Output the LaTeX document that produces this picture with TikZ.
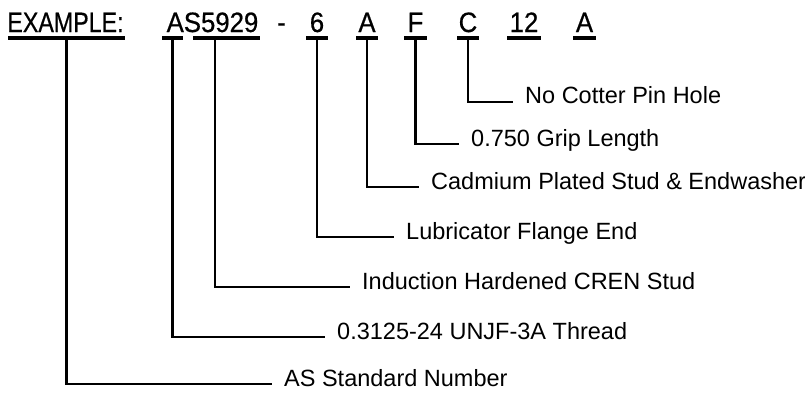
\documentclass[tikz,border=0pt]{standalone}
\usepackage{fontspec}
\setmainfont{Liberation Sans}
\newfontfamily\hdfont[FakeBold=0.6]{Liberation Sans}
\usepackage{graphicx}
\newcommand{\hdtext}[2][.92]{\scalebox{#1}[1]{#2}}
\tikzset{
  hd/.style={anchor=base,inner sep=0pt,font=\hdfont\fontsize{28}{30}\selectfont},
  bar/.style={fill=black,inner sep=0pt,minimum height=4pt},
  lbl/.style={anchor=mid west,inner xsep=12pt,inner ysep=0pt,font=\fontsize{23.5}{25}\selectfont},
  lead/.style={line width=2.8pt}
}
\begin{document}
\begin{tikzpicture}[x=1pt,y=-1pt]
	\useasboundingbox (0,0) rectangle (805,394);
	% part number
	\node[hd] (ex) at (65.5,32) {\hdtext[.83]{EXAMPLE:}};
	\node[hd] (std) at (212.5,32) {\hdtext{AS5929}};
	\node[hd] (dash) at (281.5,32) {\hdtext{-}};
	\node[hd] (end) at (317,32) {\hdtext{6}};
	\node[hd] (plate) at (367,32) {\hdtext{A}};
	\node[hd] (grip) at (415.5,32) {\hdtext{F}};
	\node[hd] (pin) at (468,32) {\hdtext{C}};
	\node[hd] (len) at (524,32) {\hdtext{12}};
	\node[hd] (last) at (584.5,32) {\hdtext{A}};
	% underlines
	\node[bar,minimum width=117pt] (bex) at (66.5,38) {};
	\node[bar,minimum width=21pt] (bAS) at (172.5,38) {};
	\node[bar,minimum width=67pt] (b5929) at (226.5,38) {};
	\node[bar,minimum width=22pt] (b6) at (317,38) {};
	\node[bar,minimum width=22pt] (bA) at (367,38) {};
	\node[bar,minimum width=23pt] (bF) at (415.5,38) {};
	\node[bar,minimum width=22pt] (bC) at (468,38) {};
	\node[bar,minimum width=34pt] (b12) at (524,38) {};
	\node[bar,minimum width=23pt] (bA2) at (584.5,38) {};
	% labels
	\node[lbl,anchor=base west] (lC) at (513,103) {No Cotter Pin Hole};
	\node[lbl] (lF) at (459,144) {0.750 Grip Length};
	\node[lbl] (lA) at (419,187) {Cadmium Plated Stud \& Endwasher};
	\node[lbl] (l6) at (394,237) {Lubricator Flange End};
	\node[lbl] (l5929) at (350,287) {Induction Hardened CREN Stud};
	\node[lbl] (lAS) at (325,337) {0.3125-24 UNJF-3A Thread};
	\node[lbl] (lex) at (272,384) {AS Standard Number};
	% leaders
	\draw[lead] (bC.south) |- ([yshift=1pt]lC.base west);
	\draw[lead] (bF.south) |- (lF.mid west);
	\draw[lead] (bA.south) |- (lA.mid west);
	\draw[lead] (b6.south) |- (l6.mid west);
	\draw[lead] ([xshift=-11.5pt]b5929.south) |- (l5929.mid west);
	\draw[lead] (bAS.south) |- (lAS.mid west);
	\draw[lead] (bex.south) |- (lex.mid west);
\end{tikzpicture}
\end{document}
